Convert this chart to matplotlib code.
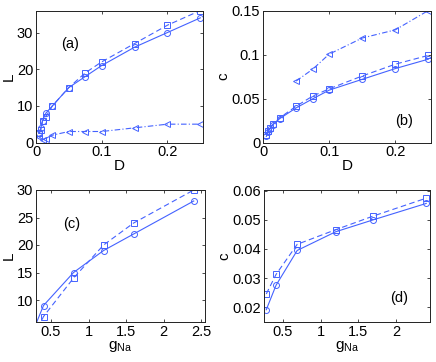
import matplotlib
matplotlib.use("Agg")
import matplotlib.pyplot as plt

plt.rcParams['font.family'] = ['Liberation Sans', 'DejaVu Sans']
plt.rcParams['mathtext.fontset'] = 'custom'
plt.rcParams['mathtext.rm'] = 'Liberation Sans'
plt.rcParams['mathtext.it'] = 'Liberation Sans'

# ---- data ----
D_main = [0.005, 0.0075, 0.01, 0.015, 0.025, 0.05, 0.075, 0.1, 0.15, 0.2, 0.25]
L_circ = [2.5, 4, 6, 8, 10, 15, 18, 21, 26, 30, 34]
L_sq = [2.5, 3.5, 6, 7, 10, 15, 19, 22, 27, 32, 36]
D_tri = [0.005, 0.01, 0.015, 0.025, 0.05, 0.075, 0.1, 0.15, 0.2, 0.25]
L_tri = [1.5, 0.8, 1.0, 2.0, 3, 3, 3, 4, 5, 5]

c_circ = [0.0069, 0.0115, 0.0153, 0.0202, 0.027, 0.0393, 0.0496, 0.0595, 0.0718, 0.084, 0.0947]
c_sq = [0.0088, 0.0126, 0.0164, 0.0206, 0.0279, 0.0412, 0.0527, 0.061, 0.0756, 0.089, 0.099]
D_tri_b = [0.05, 0.075, 0.1, 0.15, 0.2, 0.25]
c_tri = [0.0698, 0.0832, 0.1004, 0.1187, 0.128, 0.15]

gNa_c = [0.28, 0.4, 0.8, 1.2, 1.6, 2.4]
Lg_circ = [5.0, 9, 15, 19, 22, 28]
Lg_sq = [3.5, 7, 14, 20, 24, 30]

gNa_d = [0.28, 0.41, 0.69, 1.2, 1.7, 2.4]
cg_circ = [0.0192, 0.0276, 0.0395, 0.0459, 0.0500, 0.0556]
cg_sq = [0.0246, 0.0313, 0.0416, 0.0466, 0.0513, 0.0574]

col = '#4462ff'
lw = 0.8
ms = 4.3

W, H = 436, 362
fig = plt.figure(figsize=(W / 100, H / 100), dpi=100)

def mkax(l, r, t, b):
    return fig.add_axes([l / W, 1 - b / H, (r - l) / W, (b - t) / H])

axa = mkax(36, 203, 10.5, 142.5)
axb = mkax(263, 431, 10.5, 142.5)
axc = mkax(36, 205, 190, 322)
axd = mkax(264, 430, 190, 322)

def style(ax):
    ax.tick_params(direction='in', top=True, right=True, length=2.5, width=0.5,
                   labelsize=10.5, pad=2, colors='black')
    for s in ax.spines.values():
        s.set_linewidth(0.7)
        s.set_color('#222222')

def plot(ax, x, y, marker, ls):
    ax.plot(x, y, color=col, lw=lw, ls=ls, marker=marker, ms=ms,
            mfc='none', mec=col, mew=0.7)

# (a)
plot(axa, D_main, L_circ, 'o', '-')
plot(axa, D_main, L_sq, 's', (0, (5, 3)))
plot(axa, D_tri, L_tri, '<', (0, (5, 2, 1, 2)))
axa.set_xlim(0, 0.254)
axa.set_ylim(0, 36)
axa.set_xticks([0, 0.1, 0.2])
axa.set_xticklabels(['0', '0.1', '0.2'])
axa.set_yticks([0, 10, 20, 30])
axa.set_xlabel('D', fontsize=11, labelpad=0)
axa.set_ylabel('L', fontsize=11, labelpad=1)
axa.text(0.052, 26.8, '(a)', fontsize=10.5, ha='center', va='center')

# (b)
plot(axb, D_main, c_circ, 'o', '-')
plot(axb, D_main, c_sq, 's', (0, (5, 3)))
plot(axb, D_tri_b, c_tri, '<', (0, (5, 2, 1, 2)))
axb.set_xlim(0, 0.254)
axb.set_ylim(0, 0.15)
axb.set_xticks([0, 0.1, 0.2])
axb.set_xticklabels(['0', '0.1', '0.2'])
axb.set_yticks([0, 0.05, 0.1, 0.15])
axb.set_yticklabels(['0', '0.05', '0.1', '0.15'])
axb.set_xlabel('D', fontsize=11, labelpad=0)
axb.set_ylabel('c', fontsize=11, labelpad=1)
axb.text(0.213, 0.024, '(b)', fontsize=10.5, ha='center', va='center')

# (c)
plot(axc, gNa_c, Lg_circ, 'o', '-')
plot(axc, gNa_c, Lg_sq, 's', (0, (5, 3)))
axc.set_xlim(0.3, 2.55)
axc.set_ylim(6, 30)
axc.set_xticks([0.5, 1, 1.5, 2, 2.5])
axc.set_xticklabels(['0.5', '1', '1.5', '2', '2.5'])
axc.set_yticks([10, 15, 20, 25, 30])
axc.set_xlabel(r'$\mathregular{g_{Na}}$', fontsize=11, labelpad=0)
axc.set_ylabel('L', fontsize=11, labelpad=1)
axc.text(0.77, 23.8, '(c)', fontsize=10.5, ha='center', va='center')

# (d)
plot(axd, gNa_d, cg_circ, 'o', '-')
plot(axd, gNa_d, cg_sq, 's', (0, (5, 3)))
axd.set_xlim(0.25, 2.45)
axd.set_ylim(0.015, 0.0602)
axd.set_xticks([0.5, 1, 1.5, 2])
axd.set_xticklabels(['0.5', '1', '1.5', '2'])
axd.set_yticks([0.02, 0.03, 0.04, 0.05, 0.06])
axd.set_yticklabels(['0.02', '0.03', '0.04', '0.05', '0.06'])
axd.set_xlabel(r'$\mathregular{g_{Na}}$', fontsize=11, labelpad=0)
axd.set_ylabel('c', fontsize=11, labelpad=1)
axd.text(2.04, 0.0232, '(d)', fontsize=10.5, ha='center', va='center')

for ax in (axa, axb, axc, axd):
    style(ax)

fig.savefig('out.png', dpi=100)
